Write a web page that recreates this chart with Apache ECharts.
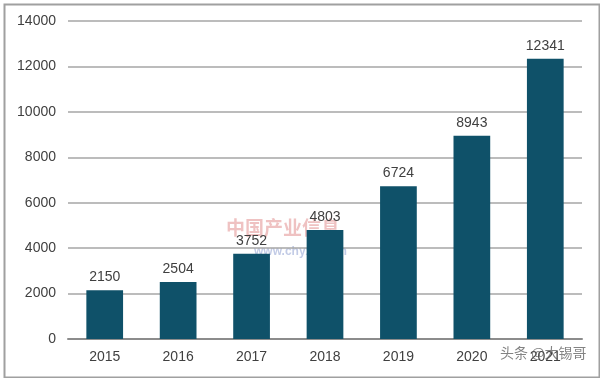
<!DOCTYPE html>
<html><head><meta charset="utf-8">
<script src="https://cdn.jsdelivr.net/npm/echarts@6/dist/echarts.min.js"></script>
<style>html,body{margin:0;padding:0;background:#fff}#c{width:600px;height:378px}</style>
</head><body><div id="c"></div>
<script>
const categories = ['2015','2016','2017','2018','2019','2020','2021'];
const values = [2150, 2504, 3752, 4803, 6724, 8943, 12341];
const yMin = 0, yMax = 14000, yInterval = 2000;

const chart = echarts.init(document.getElementById('c'));
chart.setOption({
  animation: false,
  backgroundColor: '#fff',
  grid: {left: 68, right: 18, top: 21, bottom: 39},
  xAxis: {
    type: 'category', data: categories,
    axisLine: {lineStyle: {color: '#8c8c8c', width: 2}},
    axisTick: {show: false},
    axisLabel: {color: '#404040', fontSize: 14, fontFamily: 'Arial, Liberation Sans', margin: 11}
  },
  yAxis: {
    type: 'value', min: yMin, max: yMax, interval: yInterval,
    axisLine: {show: false}, axisTick: {show: false},
    axisLabel: {color: '#404040', fontSize: 14, fontFamily: 'Arial, Liberation Sans', margin: 12,
      formatter: v => String(v)},
    splitLine: {lineStyle: {color: '#a6a6a6', width: 1.5}}
  },
  series: [{
    type: 'bar', data: values, barCategoryGap: '50%',
    itemStyle: {color: '#0f5169'},
    label: {show: true, position: 'top', color: '#404040', fontSize: 14, fontFamily: 'Arial, Liberation Sans', distance: 6}
  }],
  graphic: [
    {type: 'rect', left: 2, top: 2, shape: {width: 595, height: 373}, style: {fill: 'none', stroke: '#a0a0a0', lineWidth: 2}, silent: true},
    {type: 'text', left: 226, top: 218, style: {text: '中国产业信息', fill: 'rgba(220,120,120,0.45)', font: 'bold 19px "Noto Sans CJK SC"'}},
    {type: 'text', left: 254, top: 246, style: {text: 'www.chyxx.com', fill: 'rgba(120,140,200,0.45)', font: 'bold 12px Arial'}},
    {type: 'text', left: 500, top: 346, style: {text: '头条 @大锡哥', fill: 'rgba(90,90,90,0.75)', font: '14px "Noto Sans CJK SC"'}, z: 100}
  ]
});
</script></body></html>
